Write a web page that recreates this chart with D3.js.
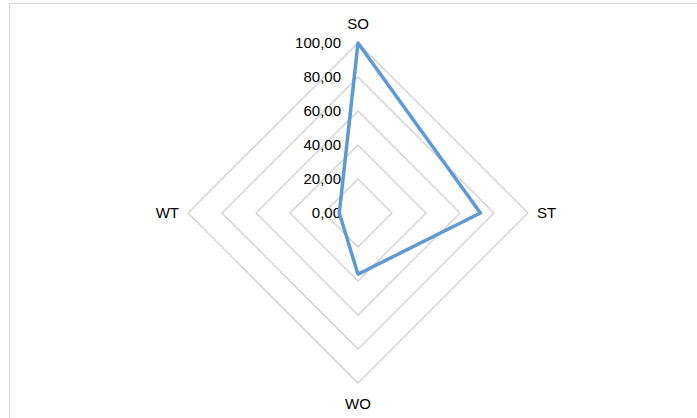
<!DOCTYPE html>
<html>
<head>
<meta charset="utf-8">
<script src="https://cdn.jsdelivr.net/npm/d3@7"></script>
<style>
  html, body { margin: 0; padding: 0; background: #fff; }
  svg { display: block; }
  text { font-family: "Liberation Sans", Arial, sans-serif; fill: #000; }
</style>
</head>
<body>
<script>
// Radar chart data
const categories = ["SO", "ST", "WO", "WT"];
const values = [100, 72, 36, 11];
const tickValues = [0, 20, 40, 60, 80, 100];
const tickLabels = ["0,00", "20,00", "40,00", "60,00", "80,00", "100,00"];

const W = 697, H = 418;
const cx = 358, cy = 213, R = 170;

const svg = d3.select("body").append("svg")
  .attr("width", W).attr("height", H);

// Chart frame (top and left edges visible)
svg.append("line").attr("x1", 9.5).attr("y1", 3.5).attr("x2", W).attr("y2", 3.5)
  .attr("stroke", "#d9d9d9").attr("stroke-width", 1);
svg.append("line").attr("x1", 9.5).attr("y1", 3.5).attr("x2", 9.5).attr("y2", H)
  .attr("stroke", "#d9d9d9").attr("stroke-width", 1);

const r = d3.scaleLinear().domain([0, 100]).range([0, R]);
const angle = d3.scalePoint().domain(categories).range([0, 2 * Math.PI * (categories.length - 1) / categories.length]);

const g = svg.append("g").attr("transform", `translate(${cx},${cy})`);

const radial = d3.lineRadial()
  .angle(d => angle(d.cat))
  .radius(d => r(d.v))
  .curve(d3.curveLinearClosed);

// Grid rings
g.selectAll("path.grid")
  .data(tickValues.filter(t => t > 0))
  .join("path")
  .attr("class", "grid")
  .attr("d", t => radial(categories.map(c => ({ cat: c, v: t }))))
  .attr("fill", "none")
  .attr("stroke", "#d0d0d0")
  .attr("stroke-width", 1.3);

// Tick labels along the SO axis
g.selectAll("text.tick")
  .data(tickValues)
  .join("text")
  .attr("class", "tick")
  .attr("x", -17)
  .attr("y", t => -r(t))
  .attr("dy", "0.35em")
  .attr("text-anchor", "end")
  .attr("font-size", 15)
  .text((t, i) => tickLabels[i]);

// Category labels
const labelOffset = 8;
g.selectAll("text.cat")
  .data(categories)
  .join("text")
  .attr("class", "cat")
  .attr("x", c => Math.sin(angle(c)) * (R + labelOffset))
  .attr("y", c => -Math.cos(angle(c)) * (R + labelOffset + 10))
  .attr("dx", c => { const s = Math.sin(angle(c)); return s > 0.5 ? 1 : s < -0.5 ? -1 : 0; })
  .attr("dy", c => { const co = Math.cos(angle(c)); return co > 0.5 ? "0.25em" : co < -0.5 ? "0.55em" : "0.35em"; })
  .attr("text-anchor", c => { const s = Math.sin(angle(c)); return s > 0.5 ? "start" : s < -0.5 ? "end" : "middle"; })
  .attr("font-size", 15)
  .text(c => c);

// Data series
g.append("path")
  .attr("d", radial(categories.map((c, i) => ({ cat: c, v: values[i] }))))
  .attr("fill", "none")
  .attr("stroke", "#5b9bd5")
  .attr("stroke-width", 3.5)
  .attr("stroke-linejoin", "round");
</script>
</body>
</html>
